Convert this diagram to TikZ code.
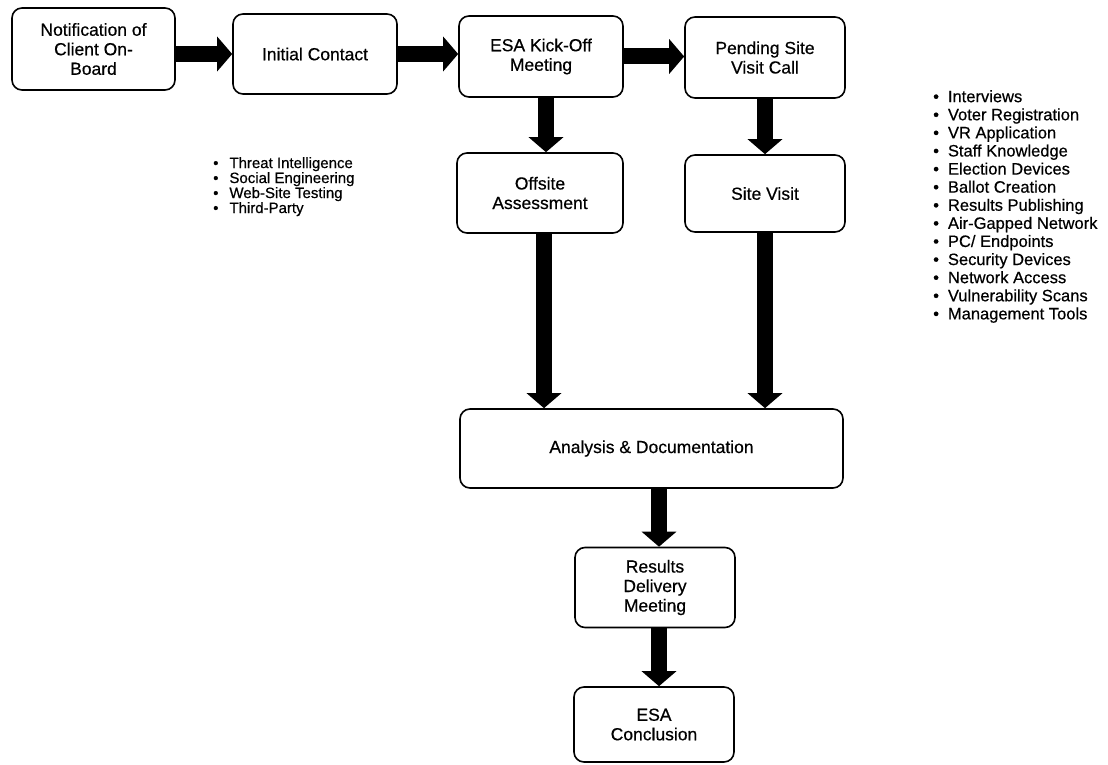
\documentclass[tikz,border=0pt]{standalone}
\usepackage{fontspec}
\setmainfont{Liberation Sans}[FakeBold=0.5]
\usetikzlibrary{arrows.meta,calc}
\begin{document}
\begin{tikzpicture}[x=1pt,y=-1pt,
  box/.style={draw, line width=1.6pt, rounded corners=10pt, align=center,
    font=\fontsize{17.5}{19.5}\selectfont, inner sep=0pt},
  flow/.style={line width=16pt, -{Triangle[width=34pt,length=15pt]}},
  blist/.style={align=left, inner sep=0pt, anchor=north west}]
\useasboundingbox (0,0) rectangle (1108,765);
\node[box, minimum width=163pt, minimum height=82pt] (notif) at (93.5,49) {Notification of\\Client On-\\Board};
\node[box, minimum width=164pt, minimum height=80pt] (init) at (315,54) {Initial Contact};
\node[box, minimum width=164pt, minimum height=81pt] (esa) at (541,56.5) {ESA Kick-Off\\Meeting};
\node[box, minimum width=160pt, minimum height=81pt] (pend) at (765,57.5) {Pending Site\\Visit Call};
\node[box, minimum width=166pt, minimum height=80pt] (off) at (540,193) {Offsite\\Assessment};
\node[box, minimum width=160pt, minimum height=77pt] (site) at (765,193.5) {Site Visit};
\node[box, minimum width=383pt, minimum height=79pt] (anal) at (651.5,448.5) {Analysis \& Documentation};
\node[box, minimum width=160pt, minimum height=80pt] (res) at (655,587.5) {Results\\Delivery\\Meeting};
\node[box, minimum width=160pt, minimum height=75pt] (concl) at (654,724.5) {ESA\\Conclusion};

\node[blist, font=\fontsize{15}{13.4}\selectfont] (llist) at (213,157)
  {•\hspace{11pt}Threat Intelligence\\
   •\hspace{11pt}Social Engineering\\
   •\hspace{11pt}Web-Site Testing\\
   •\hspace{11pt}Third-Party};
\node[blist, font=\fontsize{16.5}{18.1}\selectfont] (rlist) at (933,90)
  {•\hspace{9pt}Interviews\\
   •\hspace{9pt}Voter Registration\\
   •\hspace{9pt}VR Application\\
   •\hspace{9pt}Staff Knowledge\\
   •\hspace{9pt}Election Devices\\
   •\hspace{9pt}Ballot Creation\\
   •\hspace{9pt}Results Publishing\\
   •\hspace{9pt}Air-Gapped Network\\
   •\hspace{9pt}PC/ Endpoints\\
   •\hspace{9pt}Security Devices\\
   •\hspace{9pt}Network Access\\
   •\hspace{9pt}Vulnerability Scans\\
   •\hspace{9pt}Management Tools};

\draw[flow] (notif.east |- init.west) -- (init.west);
\draw[flow] (init.east) -- (init.east -| esa.west);
\draw[flow] (esa.east) -- (esa.east -| pend.west);
\draw[flow] ([xshift=5pt]esa.south) -- ([xshift=5pt]esa.south |- off.north);
\draw[flow] (pend.south) -- (site.north);
\draw[flow] ([xshift=4pt]off.south) -- ([xshift=4pt]off.south |- anal.north);
\draw[flow] (site.south) -- (site.south |- anal.north);
\draw[flow] ([xshift=4pt]res.north |- anal.south) -- ([xshift=4pt]res.north);
\draw[flow] ([xshift=4pt]res.south) -- ([xshift=4pt]res.south |- concl.north);
\end{tikzpicture}
\end{document}
